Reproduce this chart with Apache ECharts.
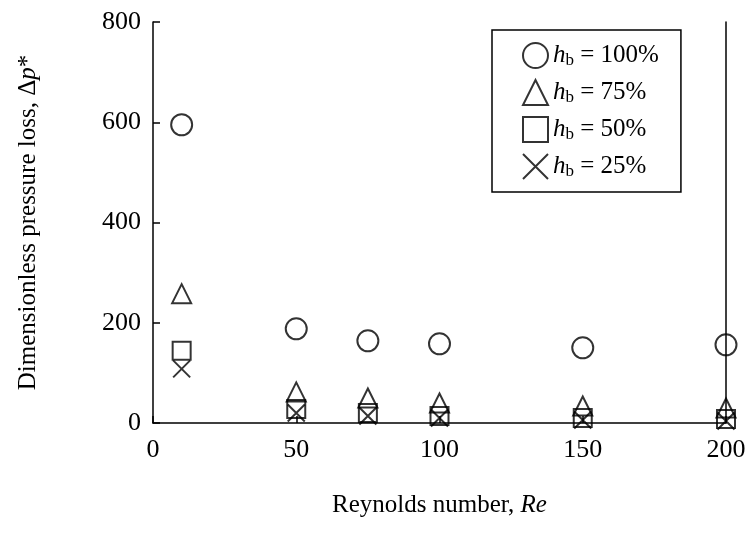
<!DOCTYPE html>
<html><head><meta charset="utf-8">
<script src="https://cdn.jsdelivr.net/npm/echarts@6/dist/echarts.min.js"></script>
<style>html,body{margin:0;background:#fff}#c{width:755px;height:534px}</style>
</head><body><div id="c"></div>
<script>
const re = [10, 50, 75, 100, 150, 200]
const hb100 = [595, 188, 164, 158, 150, 156]
const hb75 = [258, 62, 50, 40, 34, 30]
const hb50 = [144, 28, 20, 14, 10, 8]
const hb25 = [108, 20, 14, 10, 6, 4]
const names = ['100%', '75%', '50%', '25%']

const chart = echarts.init(document.getElementById('c'))
const font = 'Liberation Serif'
const rich = {
    i: { fontFamily: font, fontStyle: 'italic', fontSize: 25, color: '#000' },
    s: { fontFamily: font, fontSize: 17, color: '#000', verticalAlign: 'bottom', padding: [10, 0, 0, 0] },
    t: { fontFamily: font, fontSize: 25, color: '#000' }
}
function pts(arr) { return re.map((x, i) => [x, arr[i]]) }
const hollow = { color: 'rgba(0,0,0,0)', borderColor: '#000', borderWidth: 2 }
function mk(name, arr, symbol, size, style) {
    return { name: name, type: 'scatter', data: pts(arr), symbol: symbol, symbolSize: size, itemStyle: style }
}
const option = {
    animation: false,
    textStyle: { fontFamily: font, color: '#000' },
    grid: { left: 153, right: 29, top: 22, bottom: 111 },
    legend: {
        orient: 'vertical', left: 492, top: 30,
        padding: [12, 22, 12, 30], itemGap: 10, itemWidth: 25, itemHeight: 25,
        borderColor: '#000', borderWidth: 1.5,
        data: names,
        formatter: n => '{i|h}{s|b}{t| = ' + n + '}',
        textStyle: { rich: rich }
    },
    xAxis: {
        type: 'value', min: 0, max: 200, interval: 50,
        name: 'Reynolds number, {i|Re}', nameLocation: 'middle', nameGap: 70,
        nameTextStyle: { fontSize: 25, rich: rich, fontFamily: font },
        axisLine: { lineStyle: { color: '#000', width: 1.5 } },
        axisTick: { show: true, inside: true, length: 7, lineStyle: { color: '#000', width: 1.5 } },
        axisLabel: { fontSize: 26, color: '#000', fontFamily: font, margin: 14 },
        splitLine: { show: false }
    },
    yAxis: [{
        type: 'value', min: 0, max: 800, interval: 200,
        name: 'Dimensionless pressure loss, Δ{i|p}{t|*}', nameLocation: 'middle', nameGap: 112,
        nameTextStyle: { fontSize: 25, rich: rich, fontFamily: font },
        axisLine: { show: true, lineStyle: { color: '#000', width: 1.5 } },
        axisTick: { show: true, inside: true, length: 7, lineStyle: { color: '#000', width: 1.5 } },
        axisLabel: { fontSize: 26, color: '#000', fontFamily: font, margin: 12 },
        splitLine: { show: false }
    }, {
        type: 'value', min: 0, max: 800, position: 'right',
        axisLine: { show: true, lineStyle: { color: '#000', width: 1.5 } },
        axisTick: { show: false }, axisLabel: { show: false }, splitLine: { show: false }
    }],
    series: [
        mk('100%', hb100, 'circle', 21, hollow),
        mk('75%', hb75, 'triangle', 19, hollow),
        mk('50%', hb50, 'rect', 18, hollow),
        mk('25%', hb25, 'path://M0,0L10,10M10,0L0,10', 17, { color: 'rgba(0,0,0,0)', borderColor: '#000', borderWidth: 2 })
    ]
}
chart.setOption(option)
</script></body></html>
